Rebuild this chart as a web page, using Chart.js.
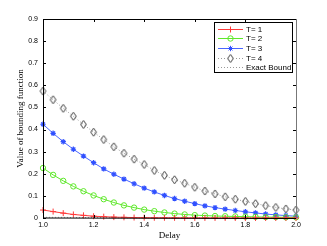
<!DOCTYPE html>
<html>
<head>
<meta charset="utf-8">
<script src="https://cdn.jsdelivr.net/npm/chart.js@4.4.1/dist/chart.umd.min.js"></script>
<style>
html, body { margin: 0; padding: 0; background: #fff; }
#wrap { width: 327px; height: 246px; }
</style>
</head>
<body>
<div id="wrap"><canvas id="boundChart"></canvas></div>
<script>
"use strict";

const delay = [1.00, 1.04, 1.08, 1.12, 1.16, 1.20, 1.24, 1.28, 1.32, 1.36, 1.40, 1.44, 1.48,
               1.52, 1.56, 1.60, 1.64, 1.68, 1.72, 1.76, 1.80, 1.84, 1.88, 1.92, 1.96, 2.00];
const t1 = [0.036, 0.029, 0.022, 0.016, 0.012, 0.008, 0.006, 0.004, 0.003, 0.002, 0.0015, 0.001, 0.001,
            0.0008, 0.0006, 0.0005, 0.0004, 0.0003, 0.0003, 0.0002, 0.0002, 0.0001, 0.0001, 0.0001, 0.0001, 0.0001];
const t2 = [0.226, 0.195, 0.168, 0.143, 0.121, 0.102, 0.085, 0.070, 0.057, 0.047, 0.038, 0.031, 0.025,
            0.020, 0.016, 0.013, 0.011, 0.009, 0.008, 0.007, 0.006, 0.005, 0.004, 0.004, 0.003, 0.003];
const t3 = [0.424, 0.383, 0.345, 0.311, 0.280, 0.250, 0.222, 0.198, 0.176, 0.155, 0.135, 0.118, 0.102,
            0.088, 0.076, 0.065, 0.055, 0.047, 0.040, 0.034, 0.028, 0.023, 0.018, 0.014, 0.011, 0.008];
const t4 = [0.574, 0.535, 0.496, 0.460, 0.423, 0.388, 0.355, 0.322, 0.293, 0.266, 0.242, 0.215, 0.193,
            0.173, 0.157, 0.139, 0.122, 0.109, 0.096, 0.085, 0.075, 0.065, 0.056, 0.048, 0.041, 0.036];
const exact = [0.003, 0.003, 0.003, 0.002, 0.002, 0.002, 0.002, 0.001, 0.001, 0.001, 0.001, 0.001, 0.001,
               0.0005, 0.0005, 0.0005, 0.0005, 0.0005, 0.0005, 0.0005, 0.0005, 0.0005, 0.0005, 0.0005, 0.0005, 0.0005];
const legendLabels = ["T= 1", "T= 2", "T= 3", "T= 4", "Exact Bound"];
const xTicks = [1, 1.2, 1.4, 1.6, 1.8, 2];
const yTicks = [0, 0.1, 0.2, 0.3, 0.4, 0.5, 0.6, 0.7, 0.8, 0.9];

function pts(ys) {
    return delay.map(function (d, i) { return { x: d, y: ys[i] }; });
}

// MATLAB diamond is narrower than Chart.js rectRot
function makeDiamond() {
    const c = document.createElement("canvas");
    c.width = 9;
    c.height = 10;
    const g = c.getContext("2d");
    g.strokeStyle = "#000";
    g.lineWidth = 0.75;
    g.beginPath();
    g.moveTo(4.5, 1);
    g.lineTo(7.4, 5);
    g.lineTo(4.5, 9);
    g.lineTo(1.6, 5);
    g.closePath();
    g.stroke();
    return c;
}
const diamond = makeDiamond();

// MATLAB style inside ticks, box and the legend in the upper right
const matlabBox = {
    id: "matlabBox",
    afterDraw: function (chart) {
        const ctx = chart.ctx;
        const a = chart.chartArea;
        const xs = chart.scales.x;
        const ys = chart.scales.y;
        ctx.save();
        ctx.lineWidth = 1;
        ctx.strokeStyle = "#000";
        ctx.beginPath();
        xTicks.forEach(function (v) {
            const px = Math.round(xs.getPixelForValue(v)) + 0.5;
            ctx.moveTo(px, a.bottom); ctx.lineTo(px, a.bottom - 3);
            ctx.moveTo(px, a.top); ctx.lineTo(px, a.top + 3);
        });
        yTicks.forEach(function (v) {
            const py = Math.round(ys.getPixelForValue(v)) + 0.5;
            ctx.moveTo(a.left, py); ctx.lineTo(a.left + 3, py);
            ctx.moveTo(a.right, py); ctx.lineTo(a.right - 3, py);
        });
        ctx.stroke();

        ctx.beginPath();
        ctx.moveTo(Math.round(a.left) + 0.5, a.top);
        ctx.lineTo(Math.round(a.left) + 0.5, a.bottom);
        ctx.lineTo(a.right, Math.round(a.bottom) + 0.5);
        ctx.moveTo(a.left, Math.round(a.top) + 0.5);
        ctx.lineTo(a.right, Math.round(a.top) + 0.5);
        ctx.stroke();
        ctx.strokeStyle = "#777";
        ctx.beginPath();
        ctx.moveTo(Math.round(a.right) + 0.5, a.top);
        ctx.lineTo(Math.round(a.right) + 0.5, a.bottom);
        ctx.stroke();

        // legend
        const lx = 214.5, ly = 22.5, lw = 78, lh = 50;
        ctx.fillStyle = "#fff";
        ctx.fillRect(lx, ly, lw, lh);
        ctx.strokeStyle = "#000";
        ctx.strokeRect(lx, ly, lw, lh);
        ctx.font = "8px 'Liberation Sans', Arial, sans-serif";
        ctx.textBaseline = "middle";
        ctx.textAlign = "left";
        chart.data.datasets.forEach(function (ds, i) {
            const y = Math.round(ly + 6 + i * 9.7) + 0.5;
            ctx.save();
            ctx.strokeStyle = ds.borderColor;
            ctx.lineWidth = 1;
            ctx.setLineDash(ds.borderDash || []);
            ctx.beginPath();
            ctx.moveTo(218, y); ctx.lineTo(243, y);
            ctx.stroke();
            ctx.restore();
            if (ds.pointRadius > 0 && Chart.helpers && Chart.helpers.drawPoint) {
                ctx.save();
                ctx.strokeStyle = ds.pointBorderColor;
                ctx.fillStyle = ds.pointBackgroundColor;
                ctx.lineWidth = 1;
                ctx.setLineDash([]);
                if (ds.pointStyle === diamond) {
                    ctx.fillStyle = "#fff";
                    ctx.fillRect(227, y - 4, 7, 8);
                }
                Chart.helpers.drawPoint(ctx, {
                    pointStyle: ds.pointStyle,
                    radius: ds.pointRadius,
                    rotation: 0,
                    borderWidth: 1
                }, 230.5, y);
                ctx.restore();
            }
            ctx.fillStyle = "#000";
            ctx.fillText(legendLabels[i], 246, y);
        });
        ctx.restore();
    }
};

const boundChart = new Chart(document.getElementById("boundChart"), {
    type: "line",
    data: {
        datasets: [{
            label: legendLabels[0],
            data: pts(t1),
            borderColor: "#ff3a3a",
            pointBorderColor: "#ff3a3a",
            pointBackgroundColor: "#ff3a3a",
            pointStyle: "cross",
            pointRadius: 3,
            borderWidth: 1,
            pointBorderWidth: 1,
            clip: 6
        }, {
            label: legendLabels[1],
            data: pts(t2),
            borderColor: "#5ee82a",
            pointBorderColor: "#5ee82a",
            pointBackgroundColor: "rgba(0,0,0,0)",
            pointStyle: "circle",
            pointRadius: 2.7,
            borderWidth: 1,
            pointBorderWidth: 1,
            clip: 6
        }, {
            label: legendLabels[2],
            data: pts(t3),
            borderColor: "#4a66ff",
            pointBorderColor: "#3050ff",
            pointBackgroundColor: "#3050ff",
            pointStyle: "star",
            pointRadius: 2.7,
            borderWidth: 1,
            pointBorderWidth: 1.2,
            clip: 6
        }, {
            label: legendLabels[3],
            data: pts(t4),
            borderColor: "#999",
            borderDash: [1, 2],
            pointBorderColor: "#000",
            pointBackgroundColor: "rgba(0,0,0,0)",
            pointStyle: diamond,
            pointRadius: 3.5,
            borderWidth: 1,
            pointBorderWidth: 1,
            clip: 6
        }, {
            label: legendLabels[4],
            data: pts(exact),
            borderColor: "#999",
            borderDash: [1, 2],
            pointRadius: 0,
            borderWidth: 1,
            clip: 6
        }]
    },
    options: {
        responsive: true,
        maintainAspectRatio: false,
        animation: false,
        events: [],
        layout: {
            padding: { top: 19, right: 31, left: 0, bottom: 0 }
        },
        elements: {
            line: { tension: 0 }
        },
        plugins: {
            legend: { display: false },
            tooltip: { enabled: false }
        },
        scales: {
            x: {
                type: "linear",
                min: 1,
                max: 2,
                afterBuildTicks: function (scale) {
                    scale.ticks = xTicks.map(function (v) { return { value: v }; });
                },
                afterFit: function (scale) { scale.height = 28; },
                grid: { display: false, drawTicks: false },
                border: { display: false },
                ticks: {
                    padding: 3,
                    maxRotation: 0,
                    color: "#000",
                    font: { family: "'Liberation Sans', Arial, sans-serif", size: 7 }
                },
                title: {
                    display: true,
                    text: "Delay",
                    color: "#000",
                    padding: { top: 0, bottom: 5 },
                    font: { family: "'Liberation Serif', 'Times New Roman', serif", size: 9 }
                }
            },
            y: {
                min: 0,
                max: 0.9,
                afterBuildTicks: function (scale) {
                    scale.ticks = yTicks.map(function (v) { return { value: v }; });
                },
                afterFit: function (scale) { scale.width = 43; },
                grid: { display: false, drawTicks: false },
                border: { display: false },
                ticks: {
                    padding: 5,
                    color: "#000",
                    font: { family: "'Liberation Sans', Arial, sans-serif", size: 7 }
                },
                title: {
                    display: true,
                    text: "Value of bounding function",
                    color: "#000",
                    padding: { top: 15, bottom: 0 },
                    font: { family: "'Liberation Serif', 'Times New Roman', serif", size: 9 }
                }
            }
        }
    },
    plugins: [matlabBox]
});
</script>
</body>
</html>
